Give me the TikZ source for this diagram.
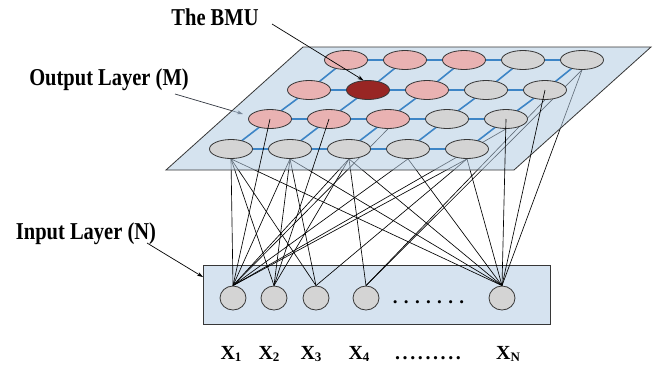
\documentclass[tikz,border=0pt]{standalone}
\usepackage{fontspec}
\setmainfont{Liberation Serif}
\usetikzlibrary{shapes.geometric,arrows.meta}
\definecolor{planefill}{RGB}{180,204,226}
\definecolor{boxfill}{RGB}{214,227,240}
\definecolor{gridblue}{RGB}{61,133,198}
\definecolor{pinkfill}{RGB}{233,178,178}
\definecolor{bmufill}{RGB}{152,38,36}
\definecolor{grayfill}{RGB}{212,212,212}
\definecolor{edgegray}{RGB}{55,55,55}
\definecolor{ptrgray}{RGB}{50,55,65}
\pgfdeclarelayer{back}
\pgfdeclarelayer{mid}
\pgfsetlayers{back,mid,main}
\begin{document}
\begin{tikzpicture}[x=1pt,y=-1pt,
  unit/.style={ellipse, draw=edgegray, line width=0.8pt, minimum width=43pt, minimum height=19pt, inner sep=0pt},
  grayunit/.style={unit, fill=grayfill},
  pinkunit/.style={unit, fill=pinkfill},
  bmuunit/.style={unit, fill=bmufill},
  inunit/.style={ellipse, draw=edgegray, line width=0.8pt, fill=grayfill, minimum width=26pt, minimum height=24pt, inner sep=0pt},
  wire/.style={black, line width=0.65pt},
  gridline/.style={gridblue, line width=1.6pt},
  lbl/.style={font=\fontsize{20.5}{22}\selectfont\bfseries, inner sep=0pt, anchor=base},
  xlbl/.style={font=\fontsize{20}{22}\selectfont\bfseries, inner sep=0pt, anchor=base},
  pointer/.style={line width=0.7pt, -{Stealth[length=6pt,width=4pt]}}
]
\useasboundingbox (0,0) rectangle (664,365);

% grid positions
\foreach \r/\x/\y in {1/346/60,2/309/90,3/270/119,4/231/149} {
  \foreach \c in {1,...,5} {
    \coordinate (p\r\c) at ({\x+59*(\c-1)},\y);
  }
}

% plane corners
\coordinate (pl1) at (166,170);
\coordinate (pl2) at (514,170);
\coordinate (pl3) at (651,47);
\coordinate (pl4) at (303,47);

% grid lines
\foreach \r in {1,...,4} {
  \foreach \c/\d in {1/2,2/3,3/4,4/5} {
    \draw[gridline] (p\r\c) -- (p\r\d);
  }
}
\foreach \r/\s in {1/2,2/3,3/4} {
  \foreach \c in {1,...,5} {
    \draw[gridline] (p\r\c) -- (p\s\c);
  }
}

% output units
\node[pinkunit] (o11) at (p11) {};
\node[pinkunit] (o12) at (p12) {};
\node[pinkunit] (o13) at (p13) {};
\node[grayunit] (o14) at (p14) {};
\node[grayunit] (o15) at (p15) {};
\node[pinkunit] (o21) at (p21) {};
\node[bmuunit]  (o22) at (p22) {};
\node[pinkunit] (o23) at (p23) {};
\node[grayunit] (o24) at (p24) {};
\node[grayunit] (o25) at (p25) {};
\node[pinkunit] (o31) at (p31) {};
\node[pinkunit] (o32) at (p32) {};
\node[pinkunit] (o33) at (p33) {};
\node[grayunit] (o34) at (p34) {};
\node[grayunit] (o35) at (p35) {};
\node[grayunit] (o41) at (p41) {};
\node[grayunit] (o42) at (p42) {};
\node[grayunit] (o43) at (p43) {};
\node[grayunit] (o44) at (p44) {};
\node[grayunit] (o45) at (p45) {};

% input units
\node[inunit] (i1) at (233,298) {};
\node[inunit] (i2) at (274,298) {};
\node[inunit] (i3) at (316,298) {};
\node[inunit] (i4) at (366,298) {};
\node[inunit] (i5) at (502,298) {};
\node[font=\fontsize{19}{20}\selectfont\bfseries, inner sep=0pt, anchor=base] (indots) at (428.5,303) {. . . . . . .};

\begin{pgfonlayer}{back}
  \fill[white] (0,0) rectangle (664,365);
  \node[draw=edgegray, line width=0.8pt, fill=boxfill, minimum width=347pt, minimum height=59pt, inner sep=0pt, anchor=north west] (inbox) at (203,265) {};
  \foreach \o/\i in {o41/i1,o42/i1,o43/i1,o44/i1,o45/i1,o35/i1,o33/i1,
                     o41/i2,o42/i2,o43/i2,
                     o41/i3,o42/i3,o45/i3,
                     o43/i4,o25/i4,o15/i4,
                     o41/i5,o42/i5,o43/i5,o44/i5,o45/i5,o15/i5} {
    \draw[wire] (\o.south) -- (\i.north);
  }
  \coordinate (outtail) at (175,94);
  \coordinate (outhead) at (243,114);
  \draw[pointer, ptrgray] (outtail) -- (outhead);
\end{pgfonlayer}

\begin{pgfonlayer}{mid}
  \fill[planefill, fill opacity=0.55] (pl1) -- (pl2) -- (pl3) -- (pl4) -- cycle;
  \draw[edgegray, line width=0.8pt] (pl1) -- (pl2) -- (pl3) -- (pl4) -- cycle;
\end{pgfonlayer}

% wires drawn over the plane
\draw[wire] (o31.center) -- (i1.north);
\draw[wire] (o32.center) -- (i2.north);
\draw[wire] (o35.center) -- (i5.north);
\draw[wire] (o25.center) -- (i5.north);

% labels
\node[lbl] (bmulbl) at (215,25) {\scalebox{1}[1.18]{The BMU}};
\node[lbl] (outlbl) at (109,85) {\scalebox{1}[1.18]{Output Layer (M)}};
\node[lbl] (inlbl) at (86,239) {\scalebox{1}[1.18]{Input Layer (N)}};

\coordinate (bmutail) at (272,24);
\draw[pointer] (bmutail) -- (o22.115);
\coordinate (intail) at (147,243);
\coordinate (inhead) at (203,277);
\draw[pointer] (intail) -- (inhead);

% input names
\node[xlbl] (x1) at (231,359) {X\raisebox{-2.5pt}{\fontsize{13}{13}\selectfont 1}};
\node[xlbl] (x2) at (269,359) {X\raisebox{-2.5pt}{\fontsize{13}{13}\selectfont 2}};
\node[xlbl] (x3) at (311,359) {X\raisebox{-2.5pt}{\fontsize{13}{13}\selectfont 3}};
\node[xlbl] (x4) at (359,359) {X\raisebox{-2.5pt}{\fontsize{13}{13}\selectfont 4}};
\node[xlbl] (xdots) at (428,359) {.\kern2.6pt.\kern2.6pt.\kern2.6pt.\kern2.6pt.\kern2.6pt.\kern2.6pt.\kern2.6pt.\kern2.6pt.};
\node[xlbl] (xn) at (508,359) {X\raisebox{-2.5pt}{\fontsize{13}{13}\selectfont N}};
\end{tikzpicture}
\end{document}
